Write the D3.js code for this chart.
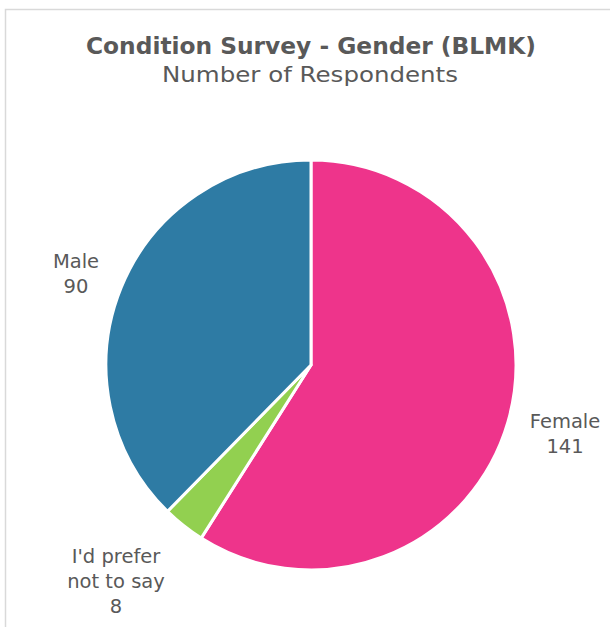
<!DOCTYPE html>
<html><head><meta charset="utf-8">
<script src="https://cdn.jsdelivr.net/npm/d3@7"></script>
<style>body{margin:0;background:#fff}svg{display:block}text{font-family:"DejaVu Sans",sans-serif}</style>
</head><body>
<svg id="c" width="610" height="627"></svg>
<script>
const categories = ["Female", "I'd prefer not to say", "Male"];
const values = [141, 8, 90];
const labelLines = [["Female", "141"], ["I'd prefer", "not to say", "8"], ["Male", "90"]];
const colors = ["#EE348B", "#92D050", "#2E7BA4"];
const titleText = "Condition Survey - Gender (BLMK)";
const subtitleText = "Number of Respondents";

const svg = d3.select("#c");
svg.append("rect").attr("x", 5.5).attr("y", 9.5).attr("width", 620).attr("height", 640)
  .attr("fill", "#fff").attr("stroke", "#d9d9d9").attr("stroke-width", 1.5);

svg.append("text").attr("x", 311).attr("y", 54).attr("text-anchor", "middle")
  .attr("font-size", 23).attr("font-weight", "bold").attr("fill", "#595959")
  .attr("textLength", 450).attr("lengthAdjust", "spacingAndGlyphs").text(titleText);
svg.append("text").attr("x", 310).attr("y", 82).attr("text-anchor", "middle")
  .attr("font-size", 21).attr("fill", "#595959")
  .attr("textLength", 296).attr("lengthAdjust", "spacingAndGlyphs").text(subtitleText);

const cx = 311, cy = 365, r = 205;
const pie = d3.pie().sort(null).value(d => d)(values);
const arc = d3.arc().innerRadius(0).outerRadius(r);
const g = svg.append("g").attr("transform", `translate(${cx},${cy})`);
g.selectAll("path").data(pie).join("path")
  .attr("d", arc).attr("fill", (d, i) => colors[i])
  .attr("stroke", "#fff").attr("stroke-width", 3).attr("stroke-linejoin", "round");

const labelPos = [[565, 428], [116, 563], [76, 268]];
labelLines.forEach((lines, i) => {
  const t = svg.append("text").attr("text-anchor", "middle").attr("font-size", 19.5).attr("fill", "#595959");
  lines.forEach((ln, j) => {
    t.append("tspan").attr("x", labelPos[i][0]).attr("y", labelPos[i][1] + j * 25).text(ln);
  });
});
</script>
</body></html>
